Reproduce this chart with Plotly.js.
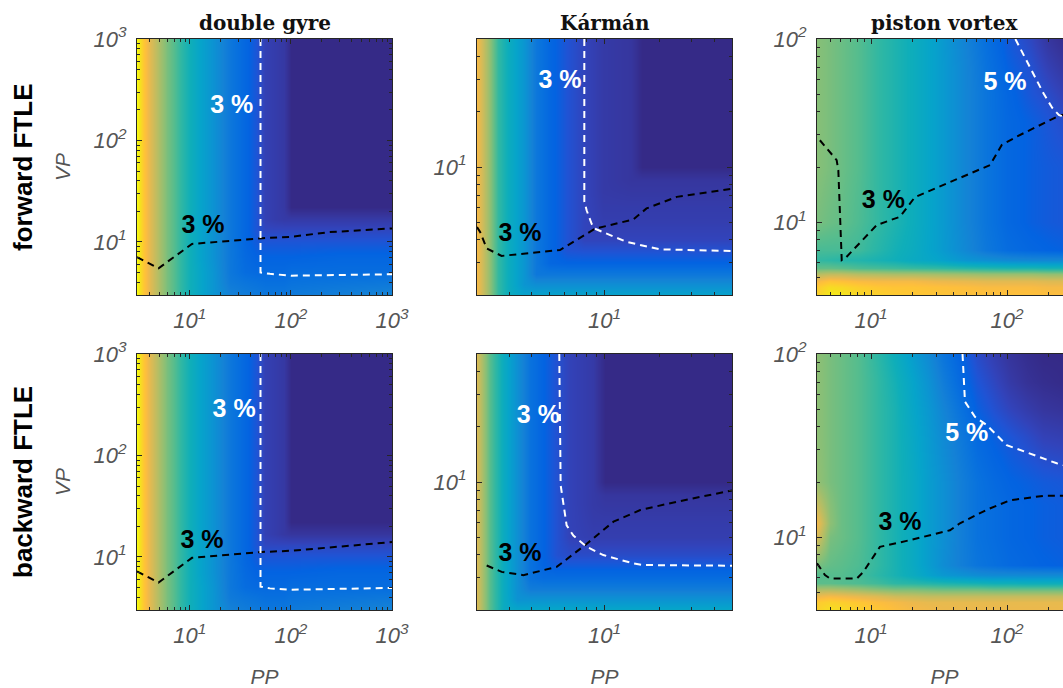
<!DOCTYPE html>
<html><head><meta charset="utf-8">
<script src="https://cdn.plot.ly/plotly-3.0.1.min.js"></script>
<style>html,body{margin:0;padding:0;overflow:hidden;background:#fff;}#chart{width:1075px;height:688px;}</style>
</head><body><div id="chart"></div>
<script>
// ---------------- DATA ----------------
const panelTitles = ['double gyre', 'Kármán', 'piston vortex'];
const rowTitles = ['forward FTLE', 'backward FTLE'];
const xAxisTitle = 'PP';
const yAxisTitle = 'VP';
const contourLabel3 = '3 %';
const contourLabel5 = '5 %';

// axis ranges (PP, VP)
const dgRange = [3, 1000];
const kmRange = [2, 50];
const pvXRange = [4, 300];
const pvYRange = [4, 100];

// tick values / labels
const dgTickVals = [10, 100, 1000];
const dgTickText = ['10<sup>1</sup>', '10<sup>2</sup>', '10<sup>3</sup>'];
const kmTickVals = [10];
const kmTickText = ['10<sup>1</sup>'];
const pvTickVals = [10, 100];
const pvTickText = ['10<sup>1</sup>', '10<sup>2</sup>'];

// ---- double gyre grids ----
const dgX = [3, 3.5, 4, 5, 6, 7, 8, 10, 13, 17, 25, 35, 45, 55, 70, 85, 100, 300, 1000];
const dgY = [3, 4, 5, 7, 10, 13, 17, 22, 30, 100, 1000];
const dgForwardZ = [
 [1.00,0.86,0.78,0.68,0.60,0.55,0.50,0.43,0.37,0.31,0.24,0.22,0.21,0.20,0.20,0.20,0.21,0.23,0.25],
 [1.00,0.86,0.78,0.68,0.60,0.55,0.50,0.43,0.37,0.31,0.21,0.19,0.18,0.17,0.17,0.17,0.18,0.19,0.20],
 [1.00,0.86,0.78,0.68,0.60,0.55,0.50,0.43,0.37,0.31,0.20,0.16,0.15,0.15,0.15,0.15,0.16,0.16,0.16],
 [1.00,0.86,0.78,0.68,0.60,0.55,0.50,0.43,0.36,0.30,0.20,0.15,0.13,0.13,0.13,0.13,0.13,0.14,0.14],
 [1.00,0.86,0.78,0.68,0.60,0.55,0.50,0.43,0.36,0.30,0.20,0.14,0.11,0.10,0.10,0.10,0.10,0.10,0.10],
 [1.00,0.86,0.78,0.68,0.60,0.55,0.50,0.43,0.36,0.30,0.20,0.14,0.10,0.07,0.07,0.07,0.07,0.07,0.07],
 [1.00,0.86,0.78,0.68,0.60,0.55,0.50,0.43,0.36,0.30,0.20,0.14,0.10,0.055,0.045,0.04,0.04,0.04,0.04],
 [1.00,0.86,0.78,0.68,0.60,0.55,0.50,0.43,0.36,0.30,0.20,0.14,0.10,0.055,0.045,0.035,0.0,0.0,0.0],
 [1.00,0.86,0.78,0.68,0.60,0.55,0.50,0.43,0.36,0.30,0.20,0.14,0.10,0.055,0.045,0.035,0.0,0.0,0.0],
 [1.00,0.86,0.78,0.68,0.60,0.55,0.50,0.43,0.36,0.30,0.20,0.14,0.10,0.055,0.045,0.035,0.0,0.0,0.0],
 [1.00,0.86,0.78,0.68,0.60,0.55,0.50,0.43,0.36,0.30,0.20,0.14,0.10,0.055,0.045,0.035,0.0,0.0,0.0]
];
const dgBackwardZ = [
 [1.00,0.86,0.78,0.68,0.60,0.55,0.50,0.43,0.37,0.31,0.24,0.22,0.21,0.20,0.20,0.20,0.21,0.23,0.25],
 [1.00,0.86,0.78,0.68,0.60,0.55,0.50,0.43,0.37,0.31,0.21,0.19,0.18,0.17,0.17,0.17,0.18,0.19,0.20],
 [1.00,0.86,0.78,0.68,0.60,0.55,0.50,0.43,0.37,0.31,0.20,0.16,0.15,0.15,0.15,0.15,0.16,0.16,0.16],
 [1.00,0.86,0.78,0.68,0.60,0.55,0.50,0.43,0.36,0.30,0.20,0.15,0.13,0.13,0.13,0.13,0.13,0.14,0.14],
 [1.00,0.86,0.78,0.68,0.60,0.55,0.50,0.43,0.36,0.30,0.20,0.14,0.11,0.10,0.10,0.10,0.10,0.10,0.10],
 [1.00,0.86,0.78,0.68,0.60,0.55,0.50,0.43,0.36,0.30,0.20,0.14,0.10,0.07,0.07,0.07,0.07,0.07,0.07],
 [1.00,0.86,0.78,0.68,0.60,0.55,0.50,0.43,0.36,0.30,0.20,0.14,0.10,0.055,0.045,0.035,0.03,0.03,0.03],
 [1.00,0.86,0.78,0.68,0.60,0.55,0.50,0.43,0.36,0.30,0.20,0.14,0.10,0.055,0.045,0.035,0.0,0.0,0.0],
 [1.00,0.86,0.78,0.68,0.60,0.55,0.50,0.43,0.36,0.30,0.20,0.14,0.10,0.055,0.045,0.035,0.0,0.0,0.0],
 [1.00,0.86,0.78,0.68,0.60,0.55,0.50,0.43,0.36,0.30,0.20,0.14,0.10,0.055,0.045,0.035,0.0,0.0,0.0],
 [1.00,0.86,0.78,0.68,0.60,0.55,0.50,0.43,0.36,0.30,0.20,0.14,0.10,0.055,0.045,0.035,0.0,0.0,0.0]
];

// ---- Karman grids ----
const kmForwardX = [2, 2.3, 2.6, 3, 3.6, 4.2, 5, 6.2, 7.7, 9.8, 14, 16, 25, 50];
const kmForwardY = [2, 2.3, 2.6, 3, 3.5, 4, 5, 6, 7.5, 8.5, 10, 20, 50];
const kmForwardZ = [
 [0.82,0.66,0.50,0.41,0.36,0.36,0.36,0.36,0.36,0.36,0.36,0.36,0.36,0.36],
 [0.82,0.66,0.50,0.41,0.31,0.28,0.28,0.28,0.28,0.28,0.28,0.28,0.28,0.28],
 [0.82,0.66,0.50,0.41,0.31,0.20,0.20,0.20,0.20,0.20,0.20,0.20,0.20,0.20],
 [0.82,0.66,0.50,0.41,0.31,0.20,0.14,0.13,0.13,0.13,0.13,0.13,0.13,0.13],
 [0.82,0.66,0.50,0.41,0.31,0.20,0.14,0.095,0.09,0.09,0.09,0.09,0.09,0.09],
 [0.82,0.66,0.50,0.41,0.31,0.20,0.14,0.095,0.065,0.065,0.065,0.065,0.065,0.065],
 [0.82,0.66,0.50,0.41,0.31,0.20,0.14,0.095,0.065,0.05,0.05,0.05,0.05,0.05],
 [0.82,0.66,0.50,0.41,0.31,0.20,0.14,0.095,0.065,0.045,0.045,0.045,0.045,0.045],
 [0.82,0.66,0.50,0.41,0.31,0.20,0.14,0.095,0.065,0.04,0.035,0.035,0.035,0.035],
 [0.82,0.66,0.50,0.41,0.31,0.20,0.14,0.095,0.065,0.04,0.03,0.03,0.03,0.03],
 [0.82,0.66,0.50,0.41,0.31,0.20,0.14,0.095,0.065,0.04,0.03,0.0,0.0,0.0],
 [0.82,0.66,0.50,0.41,0.31,0.20,0.14,0.095,0.065,0.04,0.03,0.0,0.0,0.0],
 [0.82,0.66,0.50,0.41,0.31,0.20,0.14,0.095,0.065,0.04,0.03,0.0,0.0,0.0]
];
const kmBackwardX = [2, 2.35, 2.8, 3.3, 3.9, 4.6, 5.5, 6.5, 8.6, 10, 20, 50];
const kmBackwardY = [2, 2.3, 2.6, 3, 3.5, 4, 5, 6, 7.5, 8.5, 10, 20, 50];
const kmBackwardZ = [
 [0.76,0.55,0.40,0.38,0.38,0.38,0.38,0.38,0.38,0.38,0.38,0.38],
 [0.76,0.55,0.40,0.30,0.30,0.30,0.30,0.30,0.30,0.30,0.30,0.30],
 [0.76,0.55,0.40,0.29,0.22,0.22,0.22,0.22,0.22,0.22,0.22,0.22],
 [0.76,0.55,0.40,0.29,0.18,0.16,0.16,0.16,0.16,0.16,0.16,0.16],
 [0.76,0.55,0.40,0.29,0.18,0.13,0.11,0.11,0.11,0.11,0.11,0.11],
 [0.76,0.55,0.40,0.29,0.18,0.13,0.09,0.08,0.08,0.08,0.08,0.08],
 [0.76,0.55,0.40,0.29,0.18,0.13,0.09,0.06,0.05,0.05,0.05,0.05],
 [0.76,0.55,0.40,0.29,0.18,0.13,0.09,0.06,0.045,0.045,0.045,0.045],
 [0.76,0.55,0.40,0.29,0.18,0.13,0.09,0.06,0.04,0.035,0.035,0.035],
 [0.76,0.55,0.40,0.29,0.18,0.13,0.09,0.06,0.04,0.03,0.03,0.03],
 [0.76,0.55,0.40,0.29,0.18,0.13,0.09,0.06,0.04,0.0,0.0,0.0],
 [0.76,0.55,0.40,0.29,0.18,0.13,0.09,0.06,0.04,0.0,0.0,0.0],
 [0.76,0.55,0.40,0.29,0.18,0.13,0.09,0.06,0.04,0.0,0.0,0.0]
];

// ---- piston vortex grids ----
const pvForwardX = [4, 5, 6, 8, 11, 15, 20, 30, 50, 70, 100, 150, 200, 300];
const pvForwardY = [4, 4.4, 4.8, 5.2, 5.6, 6.2, 7, 10, 20, 35, 50, 70, 100];
const pvForwardZ = [
 [0.90,0.97,0.96,0.92,0.90,0.88,0.87,0.86,0.85,0.85,0.85,0.85,0.84,0.84],
 [0.88,0.93,0.92,0.89,0.87,0.86,0.86,0.85,0.84,0.83,0.83,0.83,0.82,0.82],
 [0.82,0.86,0.85,0.83,0.82,0.82,0.82,0.80,0.79,0.78,0.78,0.78,0.77,0.77],
 [0.70,0.72,0.72,0.70,0.69,0.68,0.68,0.67,0.66,0.65,0.65,0.65,0.64,0.64],
 [0.57,0.57,0.56,0.54,0.53,0.52,0.51,0.50,0.48,0.47,0.46,0.46,0.45,0.45],
 [0.50,0.49,0.48,0.47,0.45,0.43,0.40,0.37,0.31,0.29,0.27,0.26,0.26,0.26],
 [0.53,0.53,0.53,0.52,0.48,0.44,0.41,0.35,0.26,0.20,0.16,0.14,0.13,0.12],
 [0.60,0.58,0.57,0.54,0.50,0.46,0.42,0.35,0.25,0.19,0.145,0.12,0.11,0.10],
 [0.62,0.60,0.58,0.55,0.50,0.46,0.42,0.35,0.25,0.19,0.145,0.12,0.11,0.10],
 [0.62,0.60,0.58,0.55,0.50,0.46,0.42,0.35,0.25,0.19,0.145,0.12,0.10,0.075],
 [0.62,0.60,0.58,0.55,0.50,0.46,0.42,0.35,0.25,0.19,0.14,0.10,0.08,0.045],
 [0.62,0.60,0.58,0.55,0.50,0.46,0.42,0.35,0.25,0.18,0.125,0.09,0.055,0.02],
 [0.62,0.60,0.58,0.55,0.50,0.46,0.42,0.35,0.24,0.17,0.11,0.07,0.03,0.0]
];
const pvBackwardX = [4, 5, 6, 8, 11, 15, 20, 26, 34, 45, 60, 80, 105, 140, 185, 300];
const pvBackwardY = [4, 4.4, 4.8, 5.2, 5.6, 6.2, 7, 10, 12, 15, 20, 35, 50, 70, 100];
const pvBackwardZ = [
 [0.90,0.94,0.93,0.90,0.87,0.84,0.82,0.81,0.80,0.80,0.80,0.80,0.80,0.80,0.80,0.80],
 [0.88,0.90,0.89,0.87,0.84,0.82,0.80,0.79,0.79,0.79,0.79,0.79,0.79,0.79,0.79,0.79],
 [0.80,0.82,0.81,0.79,0.77,0.74,0.73,0.72,0.72,0.72,0.72,0.72,0.72,0.72,0.72,0.72],
 [0.68,0.68,0.67,0.65,0.62,0.60,0.60,0.59,0.58,0.58,0.58,0.57,0.57,0.57,0.57,0.57],
 [0.56,0.56,0.55,0.54,0.52,0.49,0.48,0.47,0.46,0.45,0.44,0.43,0.43,0.42,0.42,0.42],
 [0.55,0.55,0.55,0.53,0.49,0.45,0.41,0.36,0.32,0.30,0.28,0.27,0.27,0.27,0.27,0.27],
 [0.60,0.57,0.56,0.54,0.50,0.45,0.40,0.34,0.28,0.23,0.19,0.17,0.15,0.14,0.13,0.12],
 [0.76,0.60,0.58,0.55,0.50,0.45,0.40,0.34,0.29,0.23,0.18,0.16,0.14,0.13,0.12,0.11],
 [0.81,0.63,0.58,0.55,0.50,0.45,0.40,0.34,0.29,0.23,0.18,0.16,0.14,0.13,0.12,0.11],
 [0.73,0.62,0.58,0.55,0.50,0.45,0.40,0.34,0.29,0.23,0.18,0.16,0.14,0.13,0.12,0.11],
 [0.64,0.60,0.58,0.55,0.50,0.45,0.40,0.34,0.29,0.23,0.18,0.15,0.13,0.12,0.11,0.10],
 [0.63,0.60,0.58,0.55,0.50,0.45,0.39,0.33,0.27,0.21,0.15,0.12,0.10,0.08,0.06,0.05],
 [0.63,0.60,0.58,0.55,0.50,0.45,0.38,0.32,0.25,0.18,0.12,0.09,0.065,0.045,0.03,0.02],
 [0.63,0.60,0.58,0.55,0.50,0.44,0.37,0.30,0.22,0.15,0.10,0.07,0.04,0.02,0.01,0.0],
 [0.63,0.60,0.58,0.55,0.49,0.42,0.34,0.27,0.19,0.13,0.08,0.05,0.025,0.01,0.0,0.0]
];

// ---- contour lines (PP, VP) ----
const dgFwdBlackX = [3, 4.9, 10.5, 52, 97, 241, 1000];
const dgFwdBlackY = [7.1, 5.5, 9.55, 10.9, 11.2, 12.5, 13.6];
const dgFwdWhiteX = [50, 50, 62, 100, 1000];
const dgFwdWhiteY = [1000, 5.0, 4.85, 4.65, 4.8];
const dgBwdBlackX = [3, 4.9, 10.5, 52, 100, 1000];
const dgBwdBlackY = [7.2, 5.6, 9.8, 11.2, 11.5, 14];
const dgBwdWhiteX = [50, 50, 62, 97, 1000];
const dgBwdWhiteY = [1000, 5.1, 4.9, 4.75, 4.95];

const kmFwdBlackX = [2, 2.08, 2.26, 2.73, 5.7, 8.87, 14.4, 17, 24.9, 50];
const kmFwdBlackY = [4.7, 4.42, 3.59, 3.27, 3.52, 4.6, 5.17, 5.94, 6.87, 7.6];
const kmFwdWhiteX = [7.75, 7.75, 7.98, 8.5, 8.87, 13.2, 20.2, 50];
const kmFwdWhiteY = [50, 6.5, 5.8, 4.9, 4.6, 3.9, 3.55, 3.48];
const kmBwdBlackX = [2.26, 2.73, 3.59, 5.47, 7.82, 11.2, 15.7, 24.9, 50];
const kmBwdBlackY = [3.5, 3.23, 3.1, 3.44, 4.52, 6.07, 7.03, 7.8, 9.0];
const kmBwdWhiteX = [5.65, 5.75, 6.2, 6.75, 7.99, 9.85, 14.4, 16.3, 50];
const kmBwdWhiteY = [50, 9.6, 5.8, 5.1, 4.43, 3.99, 3.59, 3.52, 3.49];

const pvFwdBlackX = [4.2, 5.58, 5.74, 6.08, 6.43, 11.0, 16.3, 21.0, 74.9, 91.3, 117.5, 237.8, 300];
const pvFwdBlackY = [28, 21.8, 19.2, 6.2, 6.33, 9.64, 10.7, 13.7, 20.5, 26.4, 29.3, 37.9, 40];
const pvFwdWhiteX = [115, 150, 185, 215, 240, 300];
const pvFwdWhiteY = [100, 68, 50.5, 42, 38.5, 36];
const pvBwdBlackX = [4, 4.58, 4.99, 7.84, 8.76, 11.6, 19.3, 38, 45, 70.8, 105, 184.6, 258, 300];
const pvBwdBlackY = [7.2, 6.2, 5.94, 5.94, 6.46, 8.85, 9.63, 10.9, 11.9, 14.1, 15.9, 16.8, 16.8, 16.8];
const pvBwdWhiteX = [47, 49, 58, 70.8, 99.3, 231.6, 300];
const pvBwdWhiteY = [100, 54.9, 45.4, 40.9, 31.8, 25.3, 24];

// ---- contour label positions (PP, VP) ----
const dgFwdLabels = {white: [26, 215], black: [13.5, 14]};
const dgBwdLabels = {white: [27.4, 276], black: [13.2, 14]};
const kmFwdLabels = {white: [5.7, 29.2], black: [3.44, 4.25]};
const kmBwdLabels = {white: [4.34, 22.7], black: [3.44, 3.99]};
const pvFwdLabels = {white: [96.5, 57.3], black: [12.3, 12.9]};
const pvBwdLabels = {white: [50.5, 36.1], black: [16.3, 11.9]};

// ---------------- STYLE / BUILD ----------------
const parula = [
 [0.000,'rgb(53,42,135)'],[0.032,'rgb(54,55,160)'],[0.063,'rgb(50,67,186)'],
 [0.095,'rgb(32,83,212)'],[0.127,'rgb(3,99,225)'],[0.175,'rgb(8,113,222)'],
 [0.238,'rgb(20,129,214)'],[0.302,'rgb(12,147,210)'],[0.365,'rgb(6,164,202)'],
 [0.429,'rgb(15,174,185)'],[0.492,'rgb(46,183,164)'],[0.556,'rgb(89,189,140)'],
 [0.619,'rgb(135,191,119)'],[0.683,'rgb(174,190,103)'],[0.746,'rgb(209,187,89)'],
 [0.810,'rgb(241,185,74)'],[0.841,'rgb(253,190,61)'],[0.873,'rgb(254,200,50)'],
 [0.905,'rgb(250,211,42)'],[0.937,'rgb(245,222,33)'],[0.968,'rgb(245,235,24)'],
 [1.000,'rgb(249,251,14)']
];

const W = 1075, H = 688;
const colPx = [[137, 392], [477, 732], [817, 1072]];
const rowPx = [[39, 295], [354, 610]];

const panels = [
 {x: dgX, y: dgY, z: dgForwardZ, xr: dgRange, yr: dgRange, xt: [dgTickVals, dgTickText], yt: [dgTickVals, dgTickText],
  bx: dgFwdBlackX, by: dgFwdBlackY, wx: dgFwdWhiteX, wy: dgFwdWhiteY, lab: dgFwdLabels, wl: contourLabel3},
 {x: kmForwardX, y: kmForwardY, z: kmForwardZ, xr: kmRange, yr: kmRange, xt: [kmTickVals, kmTickText], yt: [kmTickVals, kmTickText],
  bx: kmFwdBlackX, by: kmFwdBlackY, wx: kmFwdWhiteX, wy: kmFwdWhiteY, lab: kmFwdLabels, wl: contourLabel3},
 {x: pvForwardX, y: pvForwardY, z: pvForwardZ, xr: pvXRange, yr: pvYRange, xt: [pvTickVals, pvTickText], yt: [pvTickVals, pvTickText],
  bx: pvFwdBlackX, by: pvFwdBlackY, wx: pvFwdWhiteX, wy: pvFwdWhiteY, lab: pvFwdLabels, wl: contourLabel5},
 {x: dgX, y: dgY, z: dgBackwardZ, xr: dgRange, yr: dgRange, xt: [dgTickVals, dgTickText], yt: [dgTickVals, dgTickText],
  bx: dgBwdBlackX, by: dgBwdBlackY, wx: dgBwdWhiteX, wy: dgBwdWhiteY, lab: dgBwdLabels, wl: contourLabel3},
 {x: kmBackwardX, y: kmBackwardY, z: kmBackwardZ, xr: kmRange, yr: kmRange, xt: [kmTickVals, kmTickText], yt: [kmTickVals, kmTickText],
  bx: kmBwdBlackX, by: kmBwdBlackY, wx: kmBwdWhiteX, wy: kmBwdWhiteY, lab: kmBwdLabels, wl: contourLabel3},
 {x: pvBackwardX, y: pvBackwardY, z: pvBackwardZ, xr: pvXRange, yr: pvYRange, xt: [pvTickVals, pvTickText], yt: [pvTickVals, pvTickText],
  bx: pvBwdBlackX, by: pvBwdBlackY, wx: pvBwdWhiteX, wy: pvBwdWhiteY, lab: pvBwdLabels, wl: contourLabel5}
];

const tickFont = {family: 'Liberation Sans Narrow, Liberation Sans, Arial, sans-serif', size: 22, color: '#555555', style: 'italic'};
const titleFont = {family: 'Liberation Sans, Arial, sans-serif', size: 21, color: '#555555', style: 'italic'};
const labelFontFamily = 'Liberation Sans, Arial, sans-serif';

function axisBase(range, ticks) {
  return {
    type: 'log', range: [Math.log10(range[0]), Math.log10(range[1])],
    showline: true, linecolor: '#262626', linewidth: 1, mirror: 'ticks',
    ticks: 'inside', ticklen: 5, tickwidth: 1, tickcolor: '#262626',
    minor: {ticks: 'inside', ticklen: 3, tickwidth: 1, tickcolor: '#262626', dtick: 'D1', showgrid: false},
    showgrid: false, zeroline: false,
    tickmode: 'array', tickvals: ticks[0], ticktext: ticks[1],
    tickfont: tickFont, fixedrange: true
  };
}

const data = [];
const layout = {
  width: W, height: H, margin: {l: 0, r: 0, t: 0, b: 0},
  paper_bgcolor: '#ffffff', plot_bgcolor: '#ffffff', showlegend: false,
  annotations: []
};

panels.forEach((p, i) => {
  const n = i + 1;
  const col = i % 3, row = Math.floor(i / 3);
  const xa = 'x' + (n === 1 ? '' : n), ya = 'y' + (n === 1 ? '' : n);
  const xKey = 'xaxis' + (n === 1 ? '' : n), yKey = 'yaxis' + (n === 1 ? '' : n);
  const xax = axisBase(p.xr, p.xt);
  xax.domain = [colPx[col][0] / W, colPx[col][1] / W];
  xax.anchor = ya;
  xax.ticklabelstandoff = 6;
  const yax = axisBase(p.yr, p.yt);
  yax.domain = [1 - rowPx[row][1] / H, 1 - rowPx[row][0] / H];
  yax.anchor = xa;
  yax.ticklabelstandoff = 5;
  if (row === 1) xax.title = {text: xAxisTitle, font: titleFont, standoff: 22};
  if (col === 0) yax.title = {text: yAxisTitle, font: titleFont, standoff: 17};
  layout[xKey] = xax; layout[yKey] = yax;

  data.push({type: 'heatmap', x: p.x, y: p.y, z: p.z, xaxis: xa, yaxis: ya,
    colorscale: parula, zmin: 0, zmax: 1, zsmooth: 'best', showscale: false, hoverinfo: 'skip'});
  data.push({type: 'scatter', mode: 'lines', x: p.bx, y: p.by, xaxis: xa, yaxis: ya,
    line: {color: '#000000', width: 2, dash: '7px,5px'}, hoverinfo: 'skip'});
  data.push({type: 'scatter', mode: 'lines', x: p.wx, y: p.wy, xaxis: xa, yaxis: ya,
    line: {color: '#ffffff', width: 2, dash: '7px,5px'}, hoverinfo: 'skip'});
  data.push({type: 'scatter', mode: 'text', x: [p.lab.white[0]], y: [p.lab.white[1]], text: ['<b>' + p.wl + '</b>'],
    textposition: 'middle center', xaxis: xa, yaxis: ya, cliponaxis: false,
    textfont: {family: labelFontFamily, size: 25, color: '#ffffff'}, hoverinfo: 'skip'});
  data.push({type: 'scatter', mode: 'text', x: [p.lab.black[0]], y: [p.lab.black[1]], text: ['<b>' + contourLabel3 + '</b>'],
    textposition: 'middle center', xaxis: xa, yaxis: ya, cliponaxis: false,
    textfont: {family: labelFontFamily, size: 25, color: '#000000'}, hoverinfo: 'skip'});

  if (row === 0) {
    layout.annotations.push({text: '<b>' + panelTitles[col] + '</b>', xref: 'paper', yref: 'paper',
      x: (colPx[col][0] + colPx[col][1]) / 2 / W, y: 1 - 23 / H, xanchor: 'center', yanchor: 'middle',
      showarrow: false, font: {family: 'DejaVu Serif, Liberation Serif, serif', size: 20, color: '#111111'}});
  }
  if (col === 0) {
    layout.annotations.push({text: '<b>' + rowTitles[row] + '</b>', xref: 'paper', yref: 'paper',
      x: 23 / W, y: 1 - (rowPx[row][0] + rowPx[row][1]) / 2 / H, xanchor: 'center', yanchor: 'middle',
      textangle: -90, showarrow: false, font: {family: 'Liberation Sans, Arial, sans-serif', size: 26, color: '#000000'}});
  }
});

Plotly.newPlot('chart', data, layout, {displayModeBar: false, staticPlot: true});
</script></body></html>
